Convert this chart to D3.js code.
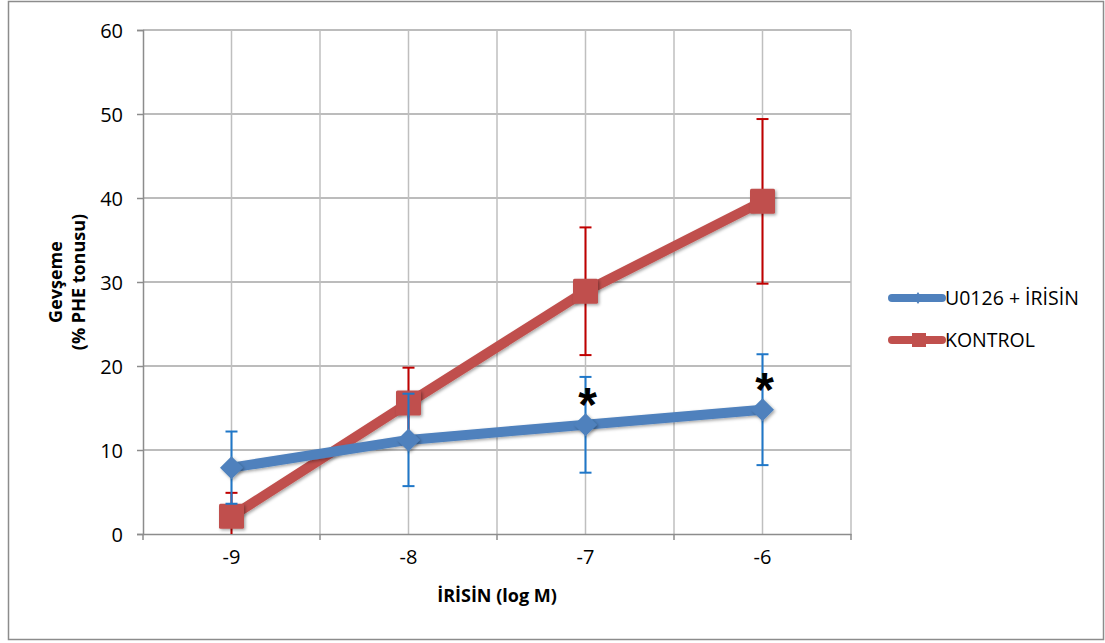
<!DOCTYPE html>
<html lang="tr">
  <head>
    <meta charset="UTF-8" />
    <title>Gevşeme - İRİSİN</title>
    <script src="https://d3js.org/d3.v7.min.js"></script>
    <style>
      body { margin: 0; background: #fff; }
      text { font-family: "Open Sans", "Noto Sans", sans-serif; fill: #000; }
      .tick text { font-size: 20px; }
    </style>
  </head>
  <body>
    <div id="chart"></div>
    <script>
      const categories = ["-9", "-8", "-7", "-6"];
      const irisinValues = [7.9, 11.2, 13.0, 14.8];
      const irisinErrors = [4.3, 5.5, 5.7, 6.6];
      const kontrolValues = [2.1, 15.6, 28.9, 39.6];
      const kontrolErrors = [2.8, 4.2, 7.6, 9.8];
      const yTicks = [0, 10, 20, 30, 40, 50, 60];
      const starred = [false, false, true, true];

      const series = [
        { name: "U0126 + İRİSİN", values: irisinValues, errors: irisinErrors,
          color: "#4F81BD", errColor: "#1F77C8", marker: "diamond" },
        { name: "KONTROL", values: kontrolValues, errors: kontrolErrors,
          color: "#C0504D", errColor: "#C00000", marker: "square" },
      ];

      const W = 1105, H = 643;
      const plot = { left: 143, right: 851, top: 30, bottom: 534 };

      const svg = d3.select("#chart").append("svg")
        .attr("width", W).attr("height", H);

      const defs = svg.append("defs");
      const f = defs.append("filter").attr("id", "shadow")
        .attr("x", "-50%").attr("y", "-50%").attr("width", "200%").attr("height", "200%");
      f.append("feDropShadow").attr("dx", 1.5).attr("dy", 1.5)
        .attr("stdDeviation", 1.5).attr("flood-color", "#000").attr("flood-opacity", 0.35);

      // outer frame
      svg.append("rect").attr("x", 8.5).attr("y", 1.5)
        .attr("width", 1095).attr("height", 638)
        .attr("fill", "none").attr("stroke", "#8c8c8c").attr("stroke-width", 1.5);

      const x = d3.scaleBand().domain(categories)
        .range([plot.left, plot.right]).paddingInner(0).paddingOuter(0);
      const cx = (c) => x(c) + x.bandwidth() / 2;
      const y = d3.scaleLinear().domain([0, 60]).range([plot.bottom, plot.top]);

      const grid = svg.append("g");
      // horizontal gridlines
      grid.selectAll("line.h").data(yTicks.slice(1)).enter().append("line")
        .attr("x1", plot.left).attr("x2", plot.right)
        .attr("y1", (d) => y(d)).attr("y2", (d) => y(d))
        .attr("stroke", "#a6a6a6").attr("stroke-width", 1.5);
      // vertical gridlines at category centres and boundaries
      const vLines = categories.map(cx).concat(categories.map((c) => x(c) + x.bandwidth()));
      grid.selectAll("line.v").data(vLines).enter().append("line")
        .attr("x1", (d) => d).attr("x2", (d) => d)
        .attr("y1", plot.top).attr("y2", plot.bottom)
        .attr("stroke", "#bfbfbf").attr("stroke-width", 1.5);

      // y axis
      const yAxis = svg.append("g").attr("transform", `translate(${plot.left},0)`)
        .call(d3.axisLeft(y).tickValues(yTicks).tickSize(6).tickPadding(14));
      yAxis.select(".domain").attr("stroke", "#8c8c8c").attr("stroke-width", 1.5);
      yAxis.selectAll(".tick line").attr("stroke", "#8c8c8c").attr("stroke-width", 1.5);
      yAxis.selectAll(".tick text").attr("dy", "0.36em");

      // x axis: labels at centres, ticks at boundaries
      const xAxis = svg.append("g").attr("transform", `translate(0,${plot.bottom})`)
        .call(d3.axisBottom(x).tickSize(0).tickPadding(16));
      xAxis.select(".domain").attr("stroke", "#8c8c8c").attr("stroke-width", 1.5);
      const bounds = [plot.left].concat(categories.map((c) => x(c) + x.bandwidth()));
      xAxis.selectAll("line.bt").data(bounds).enter().append("line")
        .attr("x1", (d) => d).attr("x2", (d) => d).attr("y1", 0).attr("y2", 6)
        .attr("stroke", "#8c8c8c").attr("stroke-width", 1.5);

      // axis titles
      svg.append("text").attr("x", (plot.left + plot.right) / 2).attr("y", 602)
        .attr("text-anchor", "middle").style("font-size", "18px").style("font-weight", "bold")
        .text("İRİSİN (log M)");
      const yt = svg.append("text")
        .attr("transform", `translate(0,${(plot.top + plot.bottom) / 2}) rotate(-90)`)
        .attr("text-anchor", "middle").style("font-size", "18px").style("font-weight", "bold");
      yt.append("tspan").attr("x", 0).attr("y", 62).text("Gevşeme");
      yt.append("tspan").attr("x", 0).attr("y", 85).text("(% PHE tonusu)");

      const line = d3.line().x((d, i) => cx(categories[i])).y((d) => y(d));

      const drawMarker = (g, type, color, px, py) => {
        if (type === "diamond") {
          const r = 11.5;
          g.append("path")
            .attr("d", `M${px},${py - r}L${px + r},${py}L${px},${py + r}L${px - r},${py}Z`)
            .attr("fill", color).attr("filter", "url(#shadow)");
        } else {
          const s = 25;
          g.append("rect").attr("x", px - s / 2).attr("y", py - s / 2)
            .attr("width", s).attr("height", s).attr("rx", 1.5)
            .attr("fill", color).attr("filter", "url(#shadow)");
        }
      };

      const clip = defs.append("clipPath").attr("id", "plotclip");
      clip.append("rect").attr("x", plot.left).attr("y", 0)
        .attr("width", plot.right - plot.left).attr("height", plot.bottom);

      // draw kontrol first then irisin
      [series[1], series[0]].forEach((s) => {
        const g = svg.append("g");
        // error bars
        const eb = g.append("g").attr("clip-path", "url(#plotclip)");
        s.values.forEach((v, i) => {
          const px = cx(categories[i]);
          const top = y(v + s.errors[i]);
          const bot = y(v - s.errors[i]);
          eb.append("line").attr("x1", px).attr("x2", px).attr("y1", top).attr("y2", bot)
            .attr("stroke", s.errColor).attr("stroke-width", 2);
          [top, bot].forEach((yy) => {
            eb.append("line").attr("x1", px - 6).attr("x2", px + 6).attr("y1", yy).attr("y2", yy)
              .attr("stroke", s.errColor).attr("stroke-width", 2);
          });
        });
        g.append("path").datum(s.values).attr("d", line)
          .attr("fill", "none").attr("stroke", s.color).attr("stroke-width", 10)
          .attr("stroke-linejoin", "round").attr("filter", "url(#shadow)");
        s.values.forEach((v, i) => drawMarker(g, s.marker, s.color, cx(categories[i]), y(v)));
      });

      // significance asterisks
      svg.selectAll("text.star").data(irisinValues.map((v, i) => ({ v, i })).filter((d) => starred[d.i]))
        .enter().append("text")
        .attr("x", (d) => cx(categories[d.i]) + 2)
        .attr("y", (d) => y(d.v) - 4)
        .attr("text-anchor", "middle")
        .style("font-size", "48px").style("font-weight", "bold")
        .style("font-family", "'Liberation Sans', sans-serif")
        .text("*");

      // legend
      const legend = svg.append("g").attr("transform", "translate(890,298)");
      series.forEach((s, i) => {
        const lg = legend.append("g").attr("transform", `translate(0,${i * 42})`);
        lg.append("line").attr("x1", 2).attr("x2", 52).attr("y1", 0).attr("y2", 0)
          .attr("stroke", s.color).attr("stroke-width", 8).attr("stroke-linecap", "round");
        if (s.marker === "diamond") {
          lg.append("path").attr("d", "M28,-6L32,0L28,6L24,0Z").attr("fill", s.color);
        } else {
          lg.append("rect").attr("x", 22).attr("y", -7).attr("width", 14).attr("height", 14)
            .attr("fill", s.color);
        }
        lg.append("text").attr("x", 55).attr("y", 0).attr("dy", "0.36em")
          .style("font-size", "19.5px").text(s.name);
      });
    </script>
  </body>
</html>
